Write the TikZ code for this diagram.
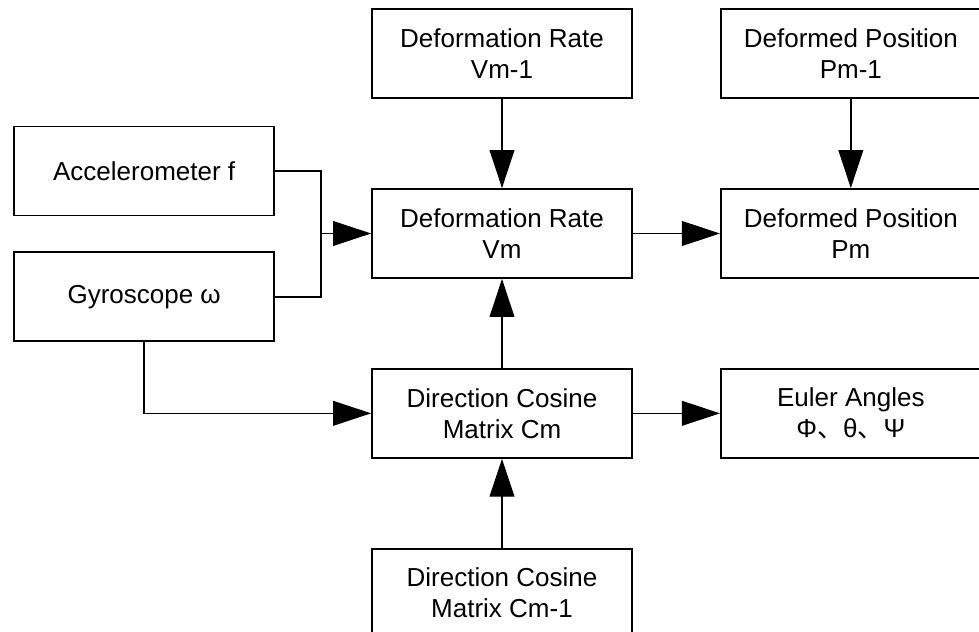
\documentclass[tikz,border=0pt]{standalone}
\usepackage{fontspec}
\setmainfont{Liberation Sans}
\newfontfamily\cjk{Noto Sans CJK SC}
\usepackage{tikz}
\usetikzlibrary{arrows.meta,positioning,calc}
\tikzstyle{arrow} = [line width=1pt,-{Triangle[length=0.95cm,width=0.62cm]}]
\tikzstyle{link} = [line width=1pt]
\tikzstyle{blockbox} = [rectangle, minimum width=6.5cm, minimum height=2.225cm, text centered, align=center, draw=black, line width=1.3pt, font=\fontsize{18.5}{22}\selectfont]

\begin{document}
\begin{tikzpicture}
\useasboundingbox (-12.55,-9.9625) rectangle (11.925,5.8375);
% middle column
\node[blockbox] (vm) {Deformation Rate\\Vm};
\node[blockbox, above=2.225cm of vm] (vmold) {Deformation Rate\\Vm-1};
\node[blockbox, below=2.225cm of vm] (cm) {Direction Cosine\\Matrix Cm};
\node[blockbox, below=2.225cm of cm] (cmold) {Direction Cosine\\Matrix Cm-1};
% right column
\node[blockbox, right=2.175cm of vm] (pm) {Deformed Position\\Pm};
\node[blockbox, above=2.225cm of pm] (pmold) {Deformed Position\\Pm-1};
\node[blockbox, right=2.175cm of cm] (euler) {Euler Angles\\Φ{\cjk 、}θ{\cjk 、}Ψ};
% sensors
\node[blockbox, left=2.4cm of vm, yshift=1.5625cm] (acc) {Accelerometer f};
\node[blockbox, below=0.875cm of acc] (gyro) {Gyroscope ω};

\coordinate (join) at ($(vm.west)+(-1.25,0)$);
\draw[link] (acc.east) -| (join) |- (gyro.east);
\draw[arrow] (join) -- (vm.west);
\draw[arrow] (gyro.south) |- (cm.west);
\draw[arrow] (vmold) -- (vm);
\draw[arrow] (pmold) -- (pm);
\draw[arrow] (vm) -- (pm);
\draw[arrow] (cm) -- (vm);
\draw[arrow] (cm) -- (euler);
\draw[arrow] (cmold) -- (cm);
\end{tikzpicture}
\end{document}
